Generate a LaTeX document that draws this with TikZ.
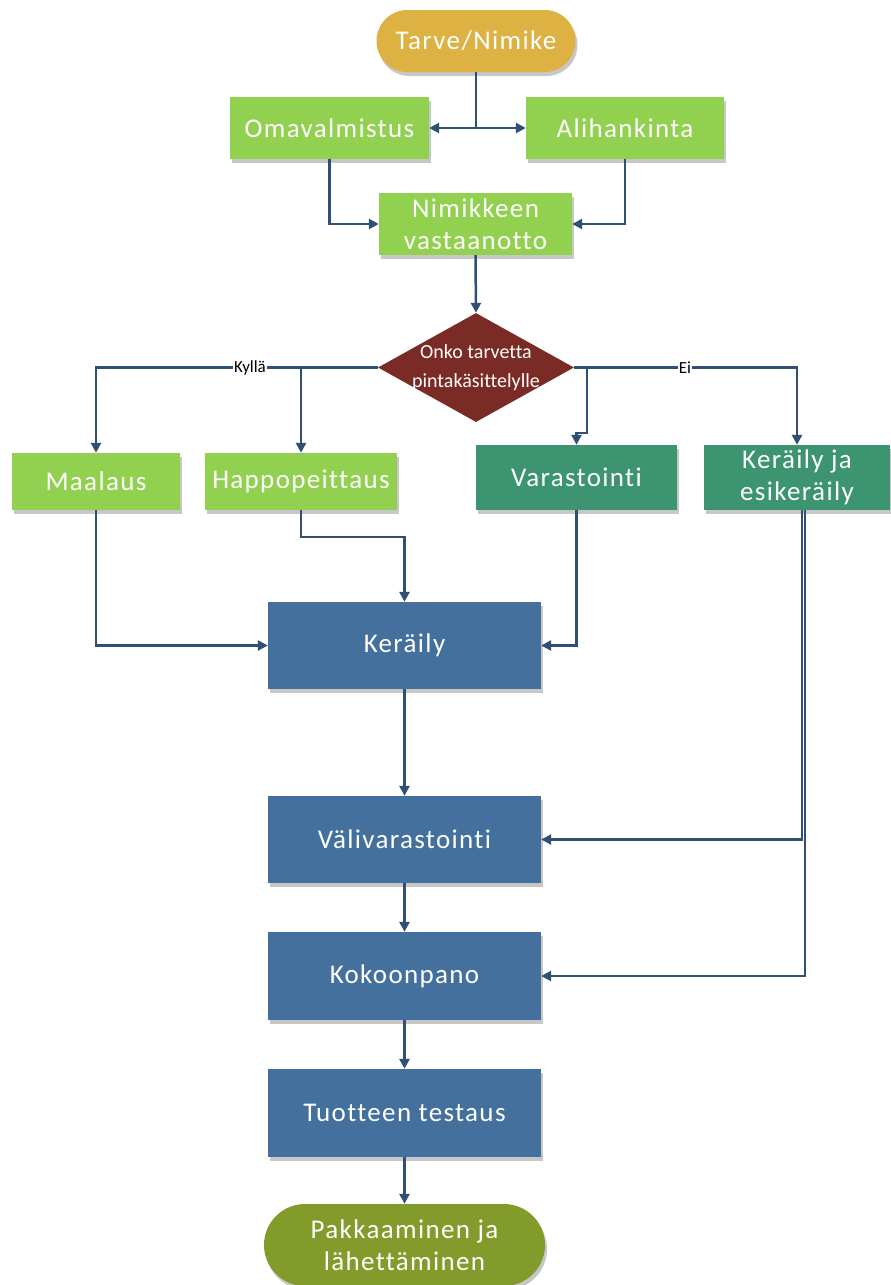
\documentclass[tikz,border=0pt]{standalone}
\usepackage{fontspec}
\setmainfont[Ligatures=NoCommon]{Carlito}
\newfontfamily\boxfont[LetterSpace=5,Ligatures=NoCommon]{Carlito}
\usetikzlibrary{shapes.geometric,shapes.misc,arrows.meta,shadows}
\definecolor{cgold}{HTML}{DDB142}
\definecolor{cgreen}{HTML}{92D050}
\definecolor{cteal}{HTML}{3C9470}
\definecolor{cred}{HTML}{7B2B25}
\definecolor{cblue}{HTML}{44709D}
\definecolor{colive}{HTML}{839B2A}
\definecolor{cline}{HTML}{2F4F75}
\begin{document}
\begin{tikzpicture}[x=1pt,y=-1pt,
  box/.style={rectangle,inner sep=0pt,text=white,align=center,
    font=\boxfont\fontsize{27}{32}\selectfont,
    drop shadow={shadow xshift=2pt,shadow yshift=-4pt,fill=black!22,opacity=1}},
  term/.style={box,rounded rectangle},
  arr/.style={draw=cline,line width=2.5pt,-{Triangle[length=10pt,width=10pt]}},
  ln/.style={draw=cline,line width=2.5pt},
  lab/.style={fill=white,inner sep=1pt,font=\fontsize{17}{17}\selectfont}]
\useasboundingbox (0,0) rectangle (891,1285);
% nodes
\node[term,fill=cgold,minimum width=199pt,minimum height=62pt] (tarve) at (476,41) {Tarve/Nimike};
\node[box,fill=cgreen,minimum width=199pt,minimum height=62pt] (oma) at (329.5,128) {Omavalmistus};
\node[box,fill=cgreen,minimum width=198pt,minimum height=62pt] (ali) at (625,128) {Alihankinta};
\node[box,fill=cgreen,minimum width=193pt,minimum height=62pt] (nim) at (475.5,224) {Nimikkeen\\vastaanotto};
\node[diamond,fill=cred,inner sep=0pt,minimum width=196pt,minimum height=109pt] (dia) at (476,367.5) {};
\node[text=white,align=center,font=\fontsize{20}{29}\selectfont] (diat) at (dia.center) {Onko tarvetta\\pintakäsittelylle};
\node[box,fill=cgreen,minimum width=168pt,minimum height=57pt] (maal) at (96,481.5) {Maalaus};
\node[box,fill=cgreen,minimum width=192pt,minimum height=57pt] (happo) at (301,481.5) {Happopeittaus};
\node[box,fill=cteal,minimum width=201pt,minimum height=65pt] (varast) at (576.5,477.5) {Varastointi};
\node[box,fill=cteal,minimum width=186pt,minimum height=65pt] (keresi) at (797,477.5) {Keräily ja\\esikeräily};
\node[box,fill=cblue,minimum width=273pt,minimum height=87pt] (ker) at (404.5,645.5) {Keräily};
\node[box,fill=cblue,minimum width=273pt,minimum height=87pt] (vali) at (404.5,839.5) {Välivarastointi};
\node[box,fill=cblue,minimum width=273pt,minimum height=88pt] (koko) at (404.5,976) {Kokoonpano};
\node[box,fill=cblue,minimum width=273pt,minimum height=88pt] (tuot) at (404.5,1113) {Tuotteen testaus};
\node[term,fill=colive,minimum width=281pt,minimum height=82pt] (pakk) at (404.5,1245) {Pakkaaminen ja\\lähettäminen};
% connectors
\draw[ln] (tarve.south) -- (476,128) coordinate (j1);
\draw[arr] (j1) -- (oma.east);
\draw[arr] (j1) -- (ali.west);
\draw[arr] (oma.south) |- (nim.west);
\draw[arr] (ali.south) |- (nim.east);
\draw[arr] (nim.south) -- (dia.north);
\draw[arr] (dia.west) -| (maal.north);
\draw[arr] (dia.west) -| (happo.north);
\draw[arr] (dia.east) -| (keresi.north);
\draw[arr] (dia.east) -- (587,367.5) -- (587,433) -- (576.5,433) -- (varast.north);
\node[lab] (kylla) at (250,367.5) {Kyllä};
\node[lab] (ei) at (685,367.5) {Ei};
\draw[arr] (maal.south) |- (ker.west);
\draw[arr] (happo.south) -- (301,537) -| (ker.north);
\draw[arr] (varast.south) |- (ker.east);
\draw[arr] ([xshift=5pt]keresi.south) |- (vali.east);
\draw[arr] ([xshift=8pt]keresi.south) |- (koko.east);
\draw[arr] (ker.south) -- (vali.north);
\draw[arr] (vali.south) -- (koko.north);
\draw[arr] (koko.south) -- (tuot.north);
\draw[arr] (tuot.south) -- (pakk.north);
\end{tikzpicture}
\end{document}
